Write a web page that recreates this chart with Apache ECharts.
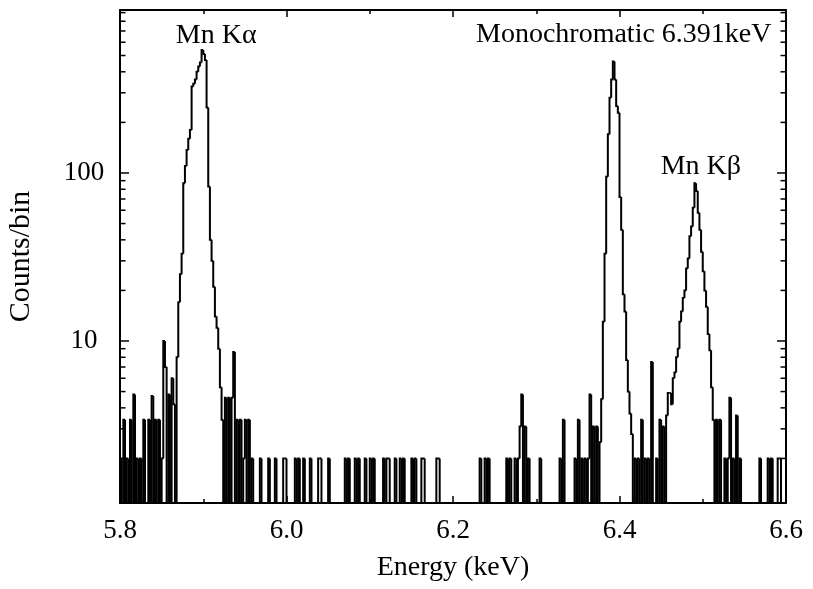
<!DOCTYPE html>
<html>
<head>
<meta charset="utf-8">
<script src="https://cdn.jsdelivr.net/npm/echarts@6/dist/echarts.min.js"></script>
<style>
  html, body { margin: 0; padding: 0; background: #fff; }
  #chart { width: 813px; height: 589px; }
</style>
</head>
<body>
<div id="chart"></div>
<script>
// histogram binning (keV)
const binStart = 5.8;
const binWidth = 0.002;
const binCount = 400;

// Mn K-alpha region, 5.800 - 5.960 keV
const kaCounts = [
  2, 0, 3.4, 0, 2, 0, 3.4, 0, 4.8, 0,
  2, 0, 2, 0, 3.4, 0, 0, 3.4, 0, 4.7,
  0, 3.4, 0, 3.4, 0, 2, 10, 7, 0, 4.8,
  0, 6, 4.2, 0, 8, 17, 25, 33, 87, 110,
  137, 160, 180, 327, 340, 360, 400, 430, 455, 540,
  510, 470, 245, 83, 40, 30, 21, 14, 12, 9,
  5.3, 3.4, 0, 4.6, 0, 4.6, 0, 4.6, 8.6, 0,
  3.4, 0, 3.4, 0, 2, 3.4, 0, 3.4, 0, 2,
  0
];

// monochromatic line + Mn K-beta region, starts at 6.260 keV
const lineStart = 6.26;
const lineCounts = [
  0, 0, 2, 0, 2, 0, 0, 2, 0, 2,
  3.1, 4.8, 0, 3.1, 0, 2, 0, 0, 0, 0,
  0, 0, 2, 0, 0, 0, 0, 0, 0, 0,
  0, 0, 0, 0, 2, 0, 3.4, 0, 0, 0,
  0, 0, 0, 2, 0, 3.4, 0, 2, 0, 2,
  0, 2, 4.8, 0, 3.1, 0, 3.1, 0, 2.5, 4.5,
  13, 33, 95, 170, 280, 360, 460, 360, 250, 228,
  72, 46, 19, 15, 7.7, 5, 3.7, 2.8, 0, 2,
  0, 2, 0, 3.4, 0, 2, 0, 2, 0, 7.5,
  0, 0, 2, 0, 3.4, 0, 3.1, 0, 3.6, 4.9,
  4.9, 4.2, 6, 6.5, 8, 9, 13, 15, 18, 20,
  27, 31, 42, 48, 62, 87, 78, 58, 46, 34,
  26, 20, 16, 11, 8.8, 5.3, 3.4, 0, 3.4, 0,
  3.4, 0, 0, 2, 0, 2, 4.6, 0, 2, 0,
  3.6, 0, 2, 0, 0, 0
];

// lone background bins [energy keV, counts]
const backgroundBins = [
  [5.968, 2], [5.978, 2], [5.986, 2], [5.996, 2], [5.998, 2],
  [6.010, 2], [6.014, 2], [6.020, 2], [6.028, 2], [6.038, 2],
  [6.040, 2], [6.050, 2], [6.070, 2], [6.074, 2], [6.082, 2],
  [6.086, 2], [6.094, 2], [6.100, 2], [6.104, 2], [6.116, 2],
  [6.120, 2], [6.122, 2], [6.130, 2], [6.136, 2], [6.140, 2],
  [6.150, 2], [6.154, 2], [6.162, 2], [6.164, 2], [6.180, 2],
  [6.182, 2], [6.232, 2], [6.238, 2], [6.242, 2],
  [6.568, 2], [6.578, 2], [6.582, 2], [6.590, 2], [6.592, 2]
];

const xTickLabels = ['5.8', '6.0', '6.2', '6.4', '6.6'];
const yMinorTicks = [2, 3, 4, 5, 6, 7, 8, 9, 20, 30, 40, 50, 60, 70, 80, 90,
  200, 300, 400, 500, 600, 700, 800, 900];

const peakLabels = [
  { text: 'Mn Kα', energy: 5.9155, counts: 654 },
  { text: 'Monochromatic 6.391keV', energy: 6.4051, counts: 669 },
  { text: 'Mn Kβ', energy: 6.4977, counts: 109 }
];

const xMin = 5.8, xMax = 6.6;
const yMin = 1.086, yMax = 933;

// assemble the full histogram
const counts = new Array(binCount).fill(0);
kaCounts.forEach((c, k) => { counts[k] = c; });
const lineBin = Math.round((lineStart - binStart) / binWidth);
lineCounts.forEach((c, k) => { counts[lineBin + k] = c; });
backgroundBins.forEach(([e, c]) => { counts[Math.round((e - binStart) / binWidth)] = c; });

// one item per bin: [low edge, high edge, counts, previous bin counts]
// empty bins drop below the axis floor (log axis can't take 0)
const floorOf = c => (c > 0 ? c : 1);
const histBins = counts.map((c, i) => [
  binStart + i * binWidth,
  binStart + (i + 1) * binWidth,
  floorOf(c),
  i > 0 ? floorOf(counts[i - 1]) : 1
]);

const font = 'Liberation Serif';
const black = '#000';

let chart = echarts.init(document.getElementById('chart'), null, { renderer: 'canvas' });

const xCommon = {
  type: 'value',
  min: xMin,
  max: xMax,
  interval: 0.2,
  axisLine: { show: true, onZero: false, lineStyle: { color: black, width: 2 } },
  axisTick: { show: true, inside: true, length: 7, lineStyle: { color: black, width: 1.5 } },
  minorTick: { show: true, splitNumber: 2, length: 4, lineStyle: { color: black, width: 1.5 } },
  splitLine: { show: false }
};

const yCommon = {
  type: 'log',
  logBase: 10,
  min: yMin,
  max: yMax,
  axisLine: { show: true, lineStyle: { color: black, width: 2 } },
  axisTick: { show: true, inside: true, length: 9, lineStyle: { color: black, width: 1.5 } },
  splitLine: { show: false }
};

chart.setOption({
  animation: false,
  backgroundColor: '#fff',
  grid: { left: 120, right: 27, top: 10, bottom: 86, containLabel: false, outerBoundsMode: 'none' },
  xAxis: [
    Object.assign({}, xCommon, {
      position: 'bottom',
      name: 'Energy (keV)',
      nameLocation: 'middle',
      nameGap: 51,
      nameMoveOverlap: false,
      nameTextStyle: { fontFamily: font, fontSize: 28, color: black },
      axisLabel: {
        show: true, margin: 14, fontFamily: font, fontSize: 27, color: black,
        formatter: v => xTickLabels.find(t => Math.abs(parseFloat(t) - v) < 1e-6) || ''
      }
    }),
    Object.assign({}, xCommon, { position: 'top', axisLabel: { show: false } })
  ],
  yAxis: [
    Object.assign({}, yCommon, {
      position: 'left',
      name: 'Counts/bin',
      nameLocation: 'middle',
      nameGap: 84,
      nameMoveOverlap: false,
      nameTextStyle: { fontFamily: font, fontSize: 30, color: black },
      axisLabel: {
        show: true, margin: 36, align: 'center', fontFamily: font, fontSize: 27, color: black,
        showMinLabel: false, showMaxLabel: false,
        formatter: v => (Math.abs(v - 10) < 0.01 || Math.abs(v - 100) < 0.1) ? String(Math.round(v)) : ''
      }
    }),
    Object.assign({}, yCommon, { position: 'right', axisLabel: { show: false } })
  ],
  series: [
    {
      // histogram outline, drawn bin by bin (the line series drops sub-2px segments)
      name: 'counts',
      type: 'custom',
      silent: true,
      clip: true,
      data: histBins,
      encode: { x: [0, 1], y: [2, 3] },
      renderItem: (params, api) => {
        const lo = api.value(0), hi = api.value(1);
        const c = api.value(2), prev = api.value(3);
        const p0 = api.coord([lo, prev]);
        const p1 = api.coord([lo, c]);
        const p2 = api.coord([hi, c]);
        return {
          type: 'polyline',
          shape: { points: [p0, p1, p2] },
          style: { stroke: black, fill: 'none', lineWidth: 2 }
        };
      }
    },
    {
      // minor log ticks on left and right frames
      type: 'custom',
      silent: true,
      clip: false,
      data: yMinorTicks.map(v => [xMin, v]),
      renderItem: (params, api) => {
        const v = api.value(1);
        const l = api.coord([xMin, v]);
        const r = api.coord([xMax, v]);
        const st = { stroke: black, lineWidth: 1.5 };
        return {
          type: 'group',
          children: [
            { type: 'line', shape: { x1: l[0], y1: l[1], x2: l[0] + 5.5, y2: l[1] }, style: st },
            { type: 'line', shape: { x1: r[0], y1: r[1], x2: r[0] - 5.5, y2: r[1] }, style: st }
          ]
        };
      }
    },
    {
      type: 'scatter',
      silent: true,
      symbolSize: 1,
      itemStyle: { color: 'transparent', opacity: 1 },
      data: peakLabels.map(p => ({ name: p.text, value: [p.energy, p.counts] })),
      label: {
        show: true,
        position: 'inside',
        formatter: '{b}',
        fontFamily: font,
        fontSize: 28,
        color: black,
        opacity: 1
      }
    }
  ]
});
</script>
</body>
</html>
